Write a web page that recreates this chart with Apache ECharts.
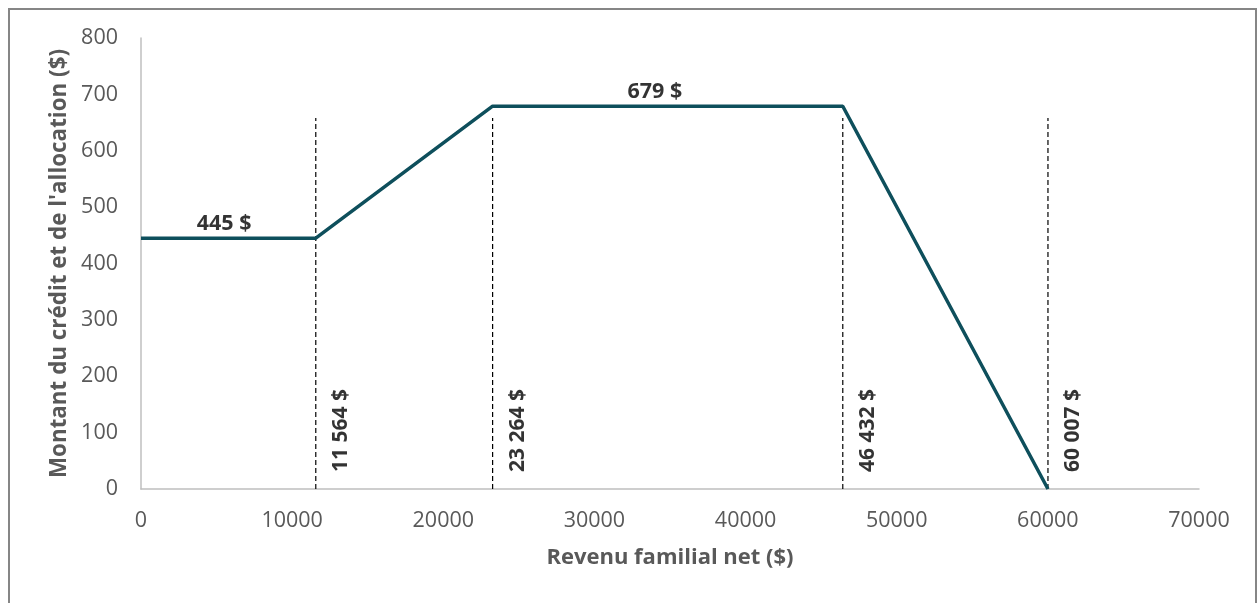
<!DOCTYPE html>
<html>
<head>
<meta charset="utf-8">
<script src="https://cdn.jsdelivr.net/npm/echarts@6/dist/echarts.min.js"></script>
<style>html,body{margin:0;padding:0;background:#fff;}#c{width:1259px;height:603px;}</style>
</head>
<body>
<div id="c"></div>
<script>
// Data
const incomeBreaks = [0, 11564, 23264, 46432, 60007];
const amounts = [445, 445, 679, 679, 0];
const thresholdIncomes = [11564, 23264, 46432, 60007];
const thresholdLabels = ['11 564 $', '23 264 $', '46 432 $', '60 007 $'];
const thresholdTop = 658;
const plateauLabelX = [5500, 34000];
const plateauValues = [445, 679];
const plateauLabels = ['445 $', '679 $'];
const xTicks = [0, 10000, 20000, 30000, 40000, 50000, 60000, 70000];
const yTicks = [0, 100, 200, 300, 400, 500, 600, 700, 800];

const FONT = '"Open Sans", "Noto Sans", sans-serif';
const chart = echarts.init(document.getElementById('c'), null, {renderer: 'canvas'});

const series = [];
thresholdIncomes.forEach((x, i) => {
  series.push({
    type: 'line',
    data: [[x, 0], [x, thresholdTop]],
    symbol: 'none',
    silent: true,
    z: 1,
    lineStyle: {color: '#000', width: 1.2, type: [5, 3]}
  });
  series.push({
    type: 'scatter',
    data: [[x, 0]],
    symbolSize: 0,
    silent: true,
    label: {
      show: true,
      formatter: thresholdLabels[i],
      position: [25, -17],
      rotate: 90,
      align: 'left',
      verticalAlign: 'middle',
      fontFamily: FONT,
      fontWeight: 'bold',
      fontSize: 21,
      color: '#000'
    }
  });
});
series.push({
  type: 'line',
  data: incomeBreaks.map((x, i) => [x, amounts[i]]),
  symbol: 'none',
  z: 3,
  lineStyle: {color: '#0e4f5c', width: 3.5},
  silent: true
});
series.push({
  type: 'scatter',
  data: plateauLabelX.map((x, i) => [x, plateauValues[i]]),
  symbolSize: 0,
  silent: true,
  label: {
    show: true,
    formatter: p => plateauLabels[p.dataIndex],
    position: 'top',
    distance: 3,
    fontFamily: FONT,
    fontWeight: 'bold',
    fontSize: 21.5,
    color: '#000'
  }
});

chart.setOption({
  animation: false,
  backgroundColor: '#fff',
  grid: {left: 141, right: 60, top: 38, bottom: 114},
  xAxis: {
    type: 'value', min: 0, max: 70000, interval: 10000,
    name: 'Revenu familial net ($)',
    nameLocation: 'middle', nameGap: 58,
    nameTextStyle: {fontFamily: FONT, fontWeight: 'bold', fontSize: 22, color: '#595959'},
    axisLine: {show: true, lineStyle: {color: '#bfbfbf', width: 1.5}},
    axisTick: {show: false},
    splitLine: {show: false},
    axisLabel: {margin: 21, fontFamily: FONT, fontSize: 21.5, color: '#595959',
      formatter: v => xTicks.includes(v) ? String(v) : ''}
  },
  yAxis: {
    type: 'value', min: 0, max: 800, interval: 100,
    name: "Montant du crédit et de l'allocation ($)",
    nameLocation: 'middle', nameGap: 69,
    nameTextStyle: {fontFamily: FONT, fontWeight: 'bold', fontSize: 22.4, color: '#595959'},
    axisLine: {show: true, lineStyle: {color: '#bfbfbf', width: 1.5}},
    axisTick: {show: false},
    splitLine: {show: false},
    axisLabel: {margin: 23, fontFamily: FONT, fontSize: 21.5, color: '#595959',
      formatter: v => yTicks.includes(v) ? String(v) : ''}
  },
  graphic: [{
    type: 'rect', silent: true, z: -1,
    shape: {x: 9, y: 9, width: 1247, height: 620},
    style: {fill: 'none', stroke: '#868686', lineWidth: 2}
  }],
  series: series
});
</script>
</body>
</html>
